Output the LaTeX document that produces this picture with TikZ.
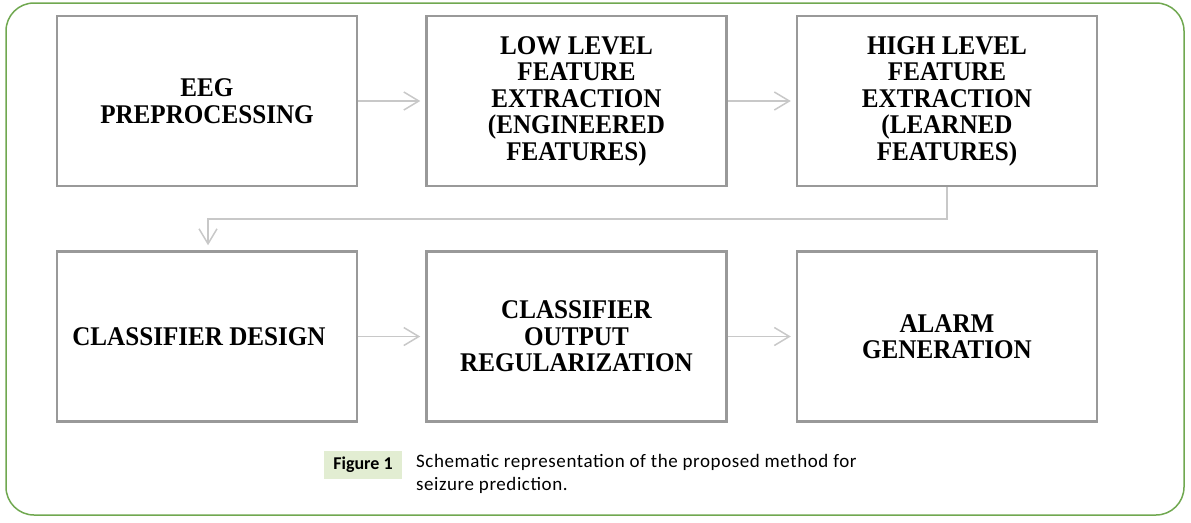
\documentclass[tikz,border=0pt]{standalone}
\usepackage{fontspec}
\newfontfamily\boxfont[FakeStretch=0.93]{Liberation Serif}
\newfontfamily\capfont[LetterSpace=3]{Carlito}
\newfontfamily\figfont{Carlito}
\usetikzlibrary{arrows.meta}
\definecolor{boxgray}{HTML}{999999}
\definecolor{arrgray}{HTML}{C8C8C8}
\definecolor{framegreen}{HTML}{70A850}
\definecolor{figgreen}{HTML}{E2EDD2}
\begin{document}
\begin{tikzpicture}[x=1pt,y=-1pt,
  stepbox/.style={draw=boxgray,line width=2.5pt,minimum width=300pt,minimum height=170pt,
    align=center,inner sep=0pt,font=\boxfont\fontsize{27}{26.5}\selectfont\bfseries},
  flow/.style={draw=arrgray,line width=1.5pt,
    -{Straight Barb[length=15pt,width=18pt,line width=1.5pt]},shorten >=5pt}]
\useasboundingbox (0,0) rectangle (1191,522);
\draw[framegreen,line width=1.5pt,rounded corners=28pt] (6,3) rectangle (1184,515);

\node[stepbox] (a1) at (207,101) {EEG\\PREPROCESSING};
\node[stepbox] (a2) at (576.5,101) {LOW LEVEL\\FEATURE\\EXTRACTION\\(ENGINEERED\\FEATURES)};
\node[stepbox] (a3) at (947,101) {HIGH LEVEL\\FEATURE\\EXTRACTION\\(LEARNED\\FEATURES)};
\node[stepbox] (b1) at (207,336.5) {CLASSIFIER DESIGN\hspace{16pt}};
\node[stepbox] (b2) at (576.5,336.5) {CLASSIFIER\\OUTPUT\\REGULARIZATION};
\node[stepbox] (b3) at (947,336.5) {ALARM\\GENERATION};

\draw[flow] (a1) -- (a2);
\draw[flow] (a2) -- (a3);
\draw[flow] (b1) -- (b2);
\draw[flow] (b2) -- (b3);
\coordinate (turn) at (208,219);
\draw[flow] (a3.south) |- (turn) -- (turn |- b1.north);

\node[fill=figgreen,font=\figfont\bfseries\fontsize{18}{20}\selectfont,
  minimum width=78pt,minimum height=28pt,inner sep=0pt] (fig) at (363,465) {Figure 1};
\node[anchor=base west,align=left,inner sep=0pt,
  font=\capfont\fontsize{19}{23}\selectfont] (cap) at (416,490)
  {Schematic representation of the proposed method for\\seizure prediction.};
\end{tikzpicture}
\end{document}
